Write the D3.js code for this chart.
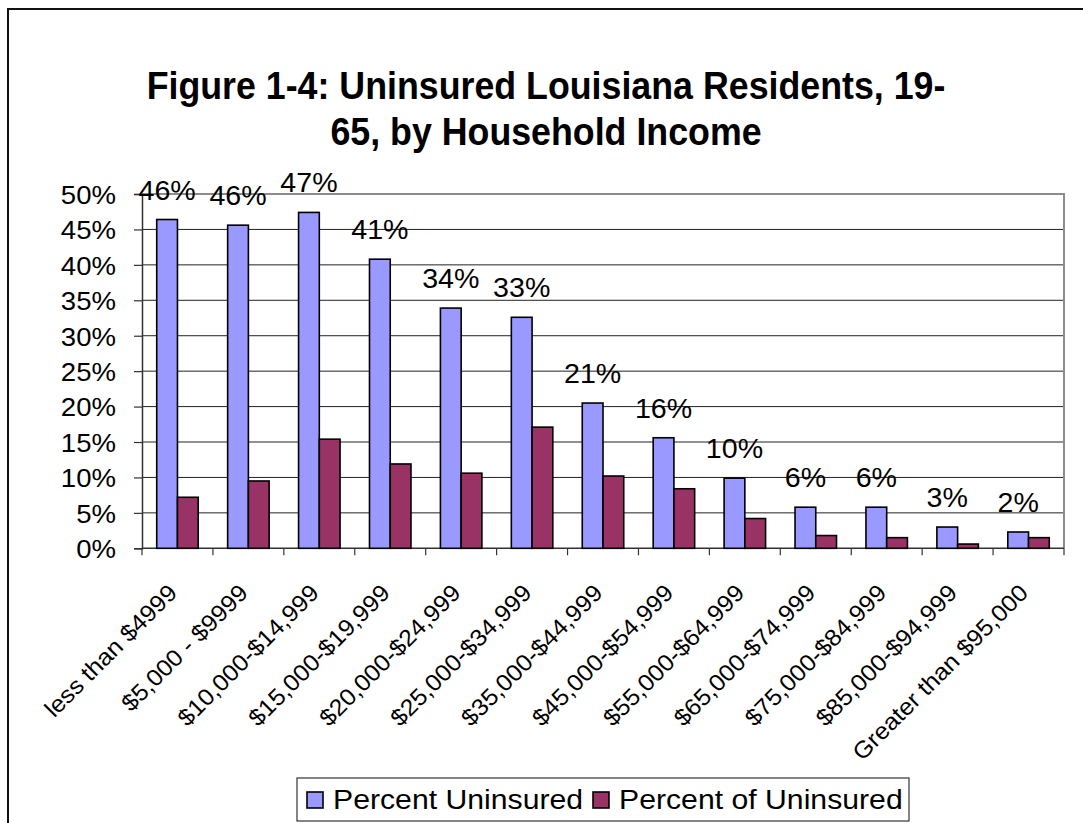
<!DOCTYPE html>
<html>
<head>
<meta charset="utf-8">
<script src="https://cdn.jsdelivr.net/npm/d3@7"></script>
<style>
  html, body { margin: 0; padding: 0; background: #fff; }
  svg { display: block; font-family: "Liberation Sans", Arial, sans-serif; }
</style>
</head>
<body>
<svg id="chart" width="1083" height="823"></svg>
<script>
const categories = ["less than $4999", "$5,000 - $9999", "$10,000-$14,999", "$15,000-$19,999",
  "$20,000-$24,999", "$25,000-$34,999", "$35,000-$44,999", "$45,000-$54,999",
  "$55,000-$64,999", "$65,000-$74,999", "$75,000-$84,999", "$85,000-$94,999", "Greater than $95,000"];
const percentUninsured = [0.464, 0.456, 0.474, 0.408, 0.339, 0.326, 0.205, 0.156, 0.099, 0.058, 0.058, 0.030, 0.023];
const percentOfUninsured = [0.072, 0.095, 0.154, 0.119, 0.106, 0.171, 0.102, 0.084, 0.042, 0.018, 0.015, 0.006, 0.015];
const seriesNames = ["Percent Uninsured", "Percent of Uninsured"];
const seriesColors = ["#9999FF", "#993366"];
const yTicks = [0, 0.05, 0.10, 0.15, 0.20, 0.25, 0.30, 0.35, 0.40, 0.45, 0.50];
const titleLines = ["Figure 1-4: Uninsured Louisiana Residents, 19-", "65, by Household Income"];

(function () {
const svg = d3.select("#chart");
const SX = 1.06; // slight horizontal stretch of text seen in the reference

// outer chart border
svg.append("rect").attr("x", 8).attr("y", 9).attr("width", 1100).attr("height", 840)
  .attr("fill", "#fff").attr("stroke", "#111").attr("stroke-width", 2);

// title
svg.append("g").selectAll("text").data(titleLines).join("text")
  .attr("transform", (d, i) => `translate(546,${99 + i * 46}) scale(0.98,1.08)`)
  .attr("text-anchor", "middle").attr("font-weight", "bold").attr("font-size", 36.5)
  .attr("fill", "#000").text(d => d);

const pL = 142, pR = 1064, pT = 194, pB = 548.3;
const x0 = d3.scaleBand().domain(categories).range([pL, pR]).padding(0);
const x1 = d3.scaleBand().domain(seriesNames).range([0, x0.bandwidth()]).paddingInner(0).paddingOuter(0.71);
const y = d3.scaleLinear().domain([0, 0.5]).range([pB, pT]);

// gridlines
svg.append("g").selectAll("line").data(yTicks.filter(d => d > 0 && d < 0.5)).join("line")
  .attr("x1", pL).attr("x2", pR).attr("y1", d => y(d)).attr("y2", d => y(d))
  .attr("stroke", "#222").attr("stroke-width", 1);
// plot area border top/right
svg.append("path").attr("d", `M${pL},${y(0.5)}H${pR}V${pB}`)
  .attr("fill", "none").attr("stroke", "#8c8c8c").attr("stroke-width", 2);

// y axis
const yAxis = d3.axisLeft(y).tickValues(yTicks).tickSize(8).tickFormat(d3.format(".0%"));
const yg = svg.append("g").attr("transform", `translate(${pL},0)`).call(yAxis);
yg.select(".domain").attr("stroke", "#333").attr("stroke-width", 1.5);
yg.selectAll(".tick line").attr("stroke", "#333").attr("stroke-width", 1.2);
yg.selectAll(".tick text").attr("font-size", 26).attr("fill", "#000")
  .attr("font-family", "Liberation Sans, Arial, sans-serif")
  .attr("x", -26 / SX).attr("dy", "0.36em").attr("transform", `scale(${SX},1)`);

// x axis line & ticks
const xg = svg.append("g");
xg.append("line").attr("x1", pL).attr("x2", pR).attr("y1", pB).attr("y2", pB)
  .attr("stroke", "#333").attr("stroke-width", 1.5);
const tickXs = categories.map(c => x0(c)).concat([pR]);
xg.selectAll("line.t").data(tickXs).join("line").attr("class", "t")
  .attr("x1", d => d).attr("x2", d => d).attr("y1", pB).attr("y2", pB + 7)
  .attr("stroke", "#333").attr("stroke-width", 1.2);

// bars
const data = categories.map((c, i) => ({ c, vals: [percentUninsured[i], percentOfUninsured[i]] }));
const groups = svg.append("g").selectAll("g").data(data).join("g")
  .attr("transform", d => `translate(${x0(d.c)},0)`);
groups.selectAll("rect").data(d => d.vals.map((v, j) => ({ v, s: seriesNames[j], j }))).join("rect")
  .attr("x", d => x1(d.s)).attr("width", x1.bandwidth())
  .attr("y", d => y(d.v)).attr("height", d => pB - y(d.v))
  .attr("fill", d => seriesColors[d.j]).attr("stroke", "#000").attr("stroke-width", 1.6);

// data labels (on first series)
svg.append("g").selectAll("text").data(data).join("text")
  .attr("transform", d => `translate(${x0(d.c) + x1(seriesNames[0]) + x1.bandwidth() / 2},${y(d.vals[0]) - 20}) scale(${SX},1)`)
  .attr("text-anchor", "middle").attr("font-size", 27).attr("fill", "#000")
  .text(d => d3.format(".0%")(d.vals[0]));

// x labels
svg.append("g").selectAll("text").data(categories).join("text")
  .attr("transform", d => `translate(${x0(d) + x0.bandwidth() / 2 + 1},${pB + 46}) rotate(-45) scale(${SX},1)`)
  .attr("text-anchor", "end").attr("font-size", 23.5).attr("fill", "#000").text(d => d);

// legend
const lg = svg.append("g");
lg.append("rect").attr("x", 297).attr("y", 778).attr("width", 612).attr("height", 43)
  .attr("fill", "#fff").attr("stroke", "#333").attr("stroke-width", 1.2);
const legendX = [307, 593];
seriesNames.forEach((s, i) => {
  lg.append("rect").attr("x", legendX[i]).attr("y", 792).attr("width", 16).attr("height", 16)
    .attr("fill", seriesColors[i]).attr("stroke", "#000").attr("stroke-width", 1.6);
  lg.append("text").attr("transform", `translate(${legendX[i] + 26},809) scale(${SX},1)`)
    .attr("font-size", 28.5).attr("fill", "#000").text(s);
});
})();
</script>
</body>
</html>
